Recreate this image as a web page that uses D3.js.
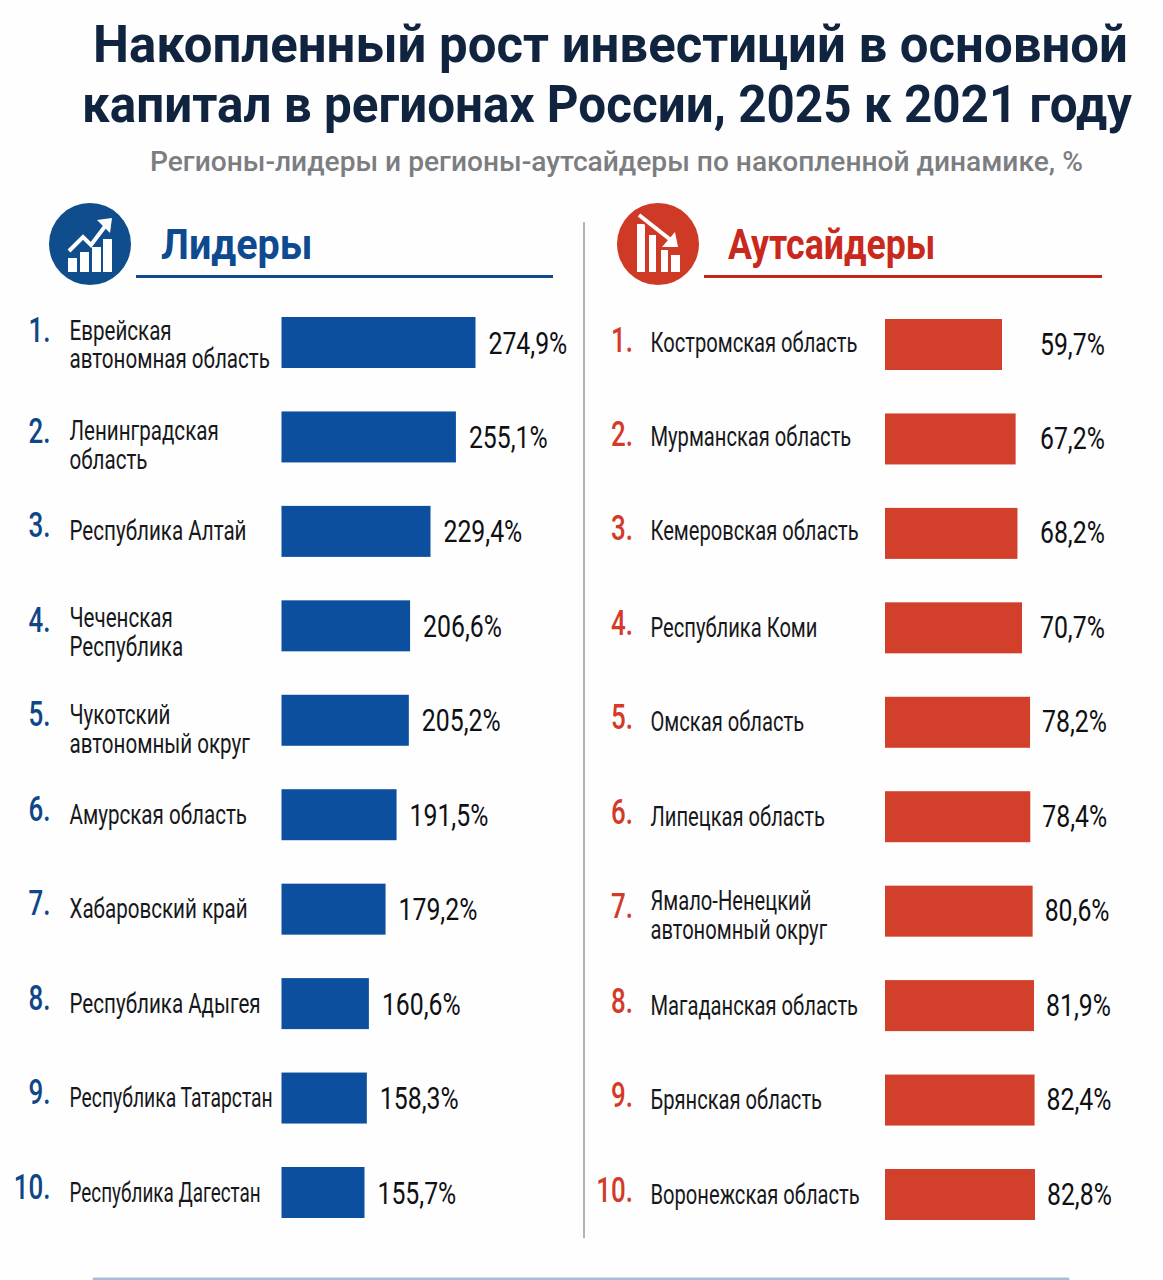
<!DOCTYPE html>
<html lang="ru">
<head>
<meta charset="utf-8">
<title>Накопленный рост инвестиций в основной капитал</title>
<script src="https://cdn.jsdelivr.net/npm/d3@7"></script>
<style>
  html, body { margin: 0; padding: 0; background: #fefefe; }
  svg { display: block; font-family: Roboto, "Liberation Sans", sans-serif; }
</style>
</head>
<body>
<div id="chart"></div>
<script>
const leaderNames = [
  ["Еврейская", "автономная область"],
  ["Ленинградская", "область"],
  ["Республика Алтай"],
  ["Чеченская", "Республика"],
  ["Чукотский", "автономный округ"],
  ["Амурская область"],
  ["Хабаровский край"],
  ["Республика Адыгея"],
  ["Республика Татарстан"],
  ["Республика Дагестан"]
];
const leaderValues = [274.9, 255.1, 229.4, 206.6, 205.2, 191.5, 179.2, 160.6, 158.3, 155.7];

const outsiderNames = [
  ["Костромская область"],
  ["Мурманская область"],
  ["Кемеровская область"],
  ["Республика Коми"],
  ["Омская область"],
  ["Липецкая область"],
  ["Ямало-Ненецкий", "автономный округ"],
  ["Магаданская область"],
  ["Брянская область"],
  ["Воронежская область"]
];
const outsiderValues = [59.7, 67.2, 68.2, 70.7, 78.2, 78.4, 80.6, 81.9, 82.4, 82.8];

const W = 1163, H = 1280;
const svg = d3.select("#chart").append("svg").attr("width", W).attr("height", H);
svg.append("rect").attr("width", W).attr("height", H).attr("fill", "#fefefe");

const fmt = v => v.toFixed(1).replace(".", ",") + "%";

// Text helper: the sheet uses a condensed face, so glyphs are narrowed horizontally.
function put(parent, str, x, y, o) {
  return parent.append("text")
    .attr("transform", `translate(${x},${y}) scale(${o.sx || 1},1)`)
    .attr("text-anchor", o.anchor || "start")
    .attr("font-size", o.size)
    .attr("font-weight", o.weight || 400)
    .attr("fill", o.fill)
    .text(str);
}

// Heading block
const titleFill = "#10233f";
put(svg, "Накопленный рост инвестиций в основной", 93, 62, { size: 52, weight: 700, fill: titleFill }).attr("class", "t1");
put(svg, "капитал в регионах России, 2025 к 2021 году", 82, 122, { size: 52, weight: 700, fill: titleFill }).attr("class", "t2");
put(svg, "Регионы-лидеры и регионы-аутсайдеры по накопленной динамике, %", 150, 171, { size: 27, weight: 500, fill: "#7b7d81" }).attr("class", "t3");

// Squeeze the heading lines into their measured widths
[[".t1", 93, 62, 1035], [".t2", 82, 122, 1050], [".t3", 150, 171, 933]].forEach(([sel, x, y, w]) => {
  const n = svg.select(sel);
  n.attr("transform", `translate(${x},${y}) scale(${w / n.node().getComputedTextLength()},1)`);
});

// Column divider and the thin rule at the foot of the sheet
svg.append("line").attr("x1", 584).attr("x2", 584).attr("y1", 222).attr("y2", 1238)
  .attr("stroke", "#b4b4b4").attr("stroke-width", 2);
svg.append("line").attr("x1", 94).attr("x2", 1068).attr("y1", 1279).attr("y2", 1279)
  .attr("stroke", "#a9bdd6").attr("stroke-width", 3).attr("stroke-linecap", "round");

function drawUpIcon(g) {
  const bars = [[-22, 14, 9, 14], [-10, 8, 9, 20], [2, 3, 9, 25], [13, -5, 9, 33]];
  g.selectAll(null).data(bars).join("rect")
    .attr("x", d => d[0]).attr("y", d => d[1]).attr("width", d => d[2]).attr("height", d => d[3])
    .attr("fill", "#fff");
  g.append("path").attr("d", "M-21,7 L-7,-7 L1,1 L16,-19").attr("fill", "none")
    .attr("stroke", "#fff").attr("stroke-width", 4);
  g.append("path").attr("d", "M7,-24 L22,-26 L20,-11 Z").attr("fill", "#fff");
}

function drawDownIcon(g) {
  const bars = [[-21, -20, 8, 48], [-9, -9, 7, 37], [3, 6, 7, 22], [13, 11, 9, 17]];
  g.selectAll(null).data(bars).join("rect")
    .attr("x", d => d[0]).attr("y", d => d[1]).attr("width", d => d[2]).attr("height", d => d[3])
    .attr("fill", "#fff");
  g.append("path").attr("d", "M-19,-29 L14,-3").attr("fill", "none")
    .attr("stroke", "#cf3a27").attr("stroke-width", 8);
  g.append("path").attr("d", "M-19,-29 L14,-3").attr("fill", "none")
    .attr("stroke", "#fff").attr("stroke-width", 4);
  g.append("path").attr("d", "M20,3 L4,3 L17,-12 Z").attr("fill", "#fff");
}

// One ranked column: header, then number, region, bar and value per row
function drawColumn(cfg) {
  const col = svg.append("g");

  col.append("circle").attr("cx", cfg.cx).attr("cy", 244).attr("r", 41).attr("fill", cfg.circle);
  cfg.icon(col.append("g").attr("transform", `translate(${cfg.cx},244)`));
  put(col, cfg.heading, cfg.headX, 259, { size: 43, weight: 700, fill: cfg.headFill, sx: cfg.headSx });
  col.append("line").attr("x1", cfg.ruleX[0]).attr("x2", cfg.ruleX[1]).attr("y1", 276.5).attr("y2", 276.5)
    .attr("stroke", cfg.ruleFill).attr("stroke-width", 3);

  const y = d3.scaleBand().domain(d3.range(cfg.values.length))
    .range(cfg.rowRange).paddingInner(0.46).paddingOuter(0);

  const rows = col.selectAll("g.row").data(cfg.values).join("g").attr("class", "row");

  rows.append("rect")
    .attr("x", cfg.barX)
    .attr("y", (d, i) => y(i))
    .attr("width", d => cfg.x(d))
    .attr("height", y.bandwidth())
    .attr("fill", cfg.bar);

  rows.each(function (d, i) {
    const g = d3.select(this);
    const mid = y(i) + y.bandwidth() / 2;

    put(g, (i + 1) + ".", cfg.numX, mid + cfg.numDy(i), { size: 36, weight: 500, fill: cfg.num, anchor: "end", sx: 0.72 });

    // A caption is one text element; a second line becomes its own tspan
    const lines = cfg.names[i];
    const top = mid + (lines.length === 1 ? 9 : 3) + cfg.labelDy(i);
    const caption = put(g, null, cfg.labelX, top, { size: 28, fill: "#17181b", sx: cfg.labelSx(i) });
    caption.selectAll("tspan").data(lines).join("tspan")
      .attr("x", 0)
      .attr("dy", (t, k) => (k === 0 ? 0 : 29))
      .text(t => t);

    const vx = cfg.valueX(cfg.barX + cfg.x(d));
    put(g, fmt(d), vx, mid + cfg.valueDy, { size: 31, weight: 400, fill: "#0f1013", sx: 0.8 });
  });
}

// Rows with a two-line caption sit a little off the bar's centre line
const leaderLabelDy = { 0: -6, 3: -2, 4: 1 };
const outsiderLabelDy = { 0: -2, 1: -2, 2: -2, 6: -4 };
// The two longest republic names are set tighter so they clear their bars
const leaderLabelSx = { 8: 0.69, 9: 0.675 };

drawColumn({
  heading: "Лидеры", cx: 90, headX: 161, headSx: 0.92, icon: drawUpIcon,
  circle: "#0f4d8d", headFill: "#0e4a90", ruleFill: "#114a8b", ruleX: [136, 553],
  names: leaderNames, values: leaderValues,
  x: d3.scaleLinear().domain([155.7, 229.4, 274.9]).range([83, 149, 194]),
  rowRange: [317, 1218], barX: 281.5, bar: "#0b4f9e",
  num: "#0e4687", numX: 50.5, numDy: i => (i === 0 ? -1 : 6), labelX: 69.5,
  labelDy: i => leaderLabelDy[i] || 0, labelSx: i => leaderLabelSx[i] || 0.735, valueDy: 11,
  valueX: end => end + 13
});

drawColumn({
  heading: "Аутсайдеры", cx: 658, headX: 728, headSx: 0.83, icon: drawDownIcon,
  circle: "#cf3a27", headFill: "#c9291d", ruleFill: "#c6241a", ruleX: [704, 1102],
  names: outsiderNames, values: outsiderValues,
  x: d3.scaleLinear().domain([59.7, 70.7, 82.8]).range([117, 137, 150]),
  rowRange: [319, 1220], barX: 885, bar: "#d23f2a",
  num: "#d33a28", numX: 633, numDy: () => 7, labelX: 650.5,
  labelDy: i => outsiderLabelDy[i] || 0, labelSx: () => 0.72, valueDy: 10,
  valueX: end => Math.max(1040, end + 12)
});
</script>
</body>
</html>
